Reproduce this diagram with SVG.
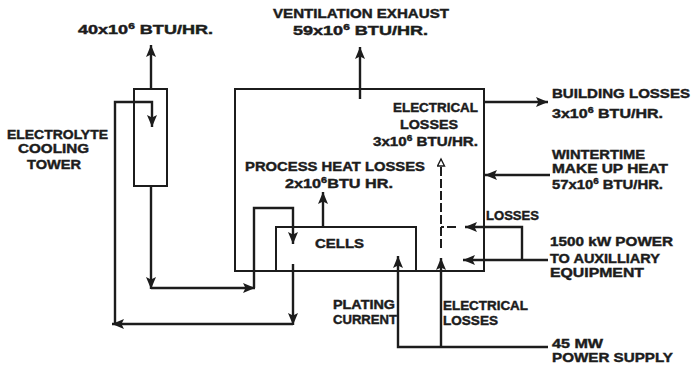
<svg xmlns="http://www.w3.org/2000/svg" width="692" height="368" viewBox="0 0 692 368">
<defs>
<style>
text{font-family:"Liberation Sans",Arial,sans-serif;font-weight:bold;font-size:13.5px;fill:#1c1c1c;stroke:#1c1c1c;stroke-width:0.45}
.sup{font-size:9px}
.box{fill:none;stroke:#1c1c1c;stroke-width:2}
.ln{fill:none;stroke:#1c1c1c;stroke-width:2.4}
.dash{fill:none;stroke:#1c1c1c;stroke-width:2;stroke-dasharray:9 3}
</style>
<marker id="ah" markerUnits="userSpaceOnUse" markerWidth="13" markerHeight="11" refX="12" refY="5.5" orient="auto">
<path d="M0,0.5 L12,5.5 L0,10.5 L2.5,5.5 z" fill="#1c1c1c"/>
</marker>
<marker id="ao" markerUnits="userSpaceOnUse" markerWidth="12" markerHeight="10" refX="8" refY="4.5" orient="auto">
<path d="M1,1 L8,4.5 L1,8 z" fill="#fff" stroke="#1c1c1c" stroke-width="1.4"/>
</marker>
</defs>
<rect width="692" height="368" fill="#fff"/>

<g id="building">
<rect class="box" x="235" y="89" width="249" height="182"/>
</g>

<g id="cooling-tower">
<rect class="box" x="134" y="89" width="33" height="97"/>
<text x="7" y="139" textLength="101" lengthAdjust="spacingAndGlyphs">ELECTROLYTE</text>
<text x="18" y="153" textLength="71" lengthAdjust="spacingAndGlyphs">COOLING</text>
<text x="27" y="169" textLength="54" lengthAdjust="spacingAndGlyphs">TOWER</text>
</g>

<g id="cells">
<rect class="box" x="276" y="227" width="140" height="44"/>
<text x="315" y="248" textLength="49" lengthAdjust="spacingAndGlyphs">CELLS</text>
</g>

<g id="connectors">
<line class="ln" x1="151" y1="89" x2="151" y2="45" marker-end="url(#ah)"/>
<line class="ln" x1="151" y1="186" x2="151" y2="289" marker-end="url(#ah)"/>
<line class="ln" x1="151" y1="288" x2="255" y2="288" marker-end="url(#ah)"/>
<polyline class="ln" points="254,288 254,208 293,208 293,244" marker-end="url(#ah)"/>
<line class="ln" x1="293" y1="264" x2="293" y2="325" marker-end="url(#ah)"/>
<line class="ln" x1="293" y1="324" x2="112" y2="324" marker-end="url(#ah)"/>
<polyline class="ln" points="115,324 115,102 152,102 152,127" marker-end="url(#ah)"/>
<line class="ln" x1="360" y1="99" x2="360" y2="47" marker-end="url(#ah)"/>
<line class="ln" x1="323" y1="227" x2="323" y2="192" marker-end="url(#ah)"/>
<line class="ln" x1="484" y1="102" x2="548" y2="102" marker-end="url(#ah)"/>
<line class="ln" x1="550" y1="175" x2="485" y2="175" marker-end="url(#ah)"/>
<line class="ln" x1="548" y1="260" x2="463" y2="260" marker-end="url(#ah)"/>
<polyline class="ln" points="522,260 522,227 465,227" marker-end="url(#ah)"/>
<line class="dash" x1="456" y1="227" x2="441" y2="227"/>
<polyline class="ln" points="548,347 398,347 398,256" marker-end="url(#ah)"/>
<line class="ln" x1="441" y1="347" x2="441" y2="258" marker-end="url(#ah)"/>
<line class="dash" x1="441" y1="248" x2="441" y2="159" marker-end="url(#ao)"/>
</g>

<g id="labels">
<text x="78" y="34" textLength="135" lengthAdjust="spacingAndGlyphs">40x10<tspan class="sup" dy="-5">6</tspan><tspan dy="5">  BTU/HR.</tspan></text>
<text x="273" y="18" textLength="176" lengthAdjust="spacingAndGlyphs">VENTILATION  EXHAUST</text>
<text x="293" y="35" textLength="135" lengthAdjust="spacingAndGlyphs">59x10<tspan class="sup" dy="-5">6</tspan><tspan dy="5">  BTU/HR.</tspan></text>
<text x="393" y="112" textLength="85" lengthAdjust="spacingAndGlyphs">ELECTRICAL</text>
<text x="400" y="129" textLength="58" lengthAdjust="spacingAndGlyphs">LOSSES</text>
<text x="373" y="146" textLength="105" lengthAdjust="spacingAndGlyphs">3x10<tspan class="sup" dy="-5">6</tspan><tspan dy="5">  BTU/HR.</tspan></text>
<text x="245" y="171" textLength="180" lengthAdjust="spacingAndGlyphs">PROCESS  HEAT  LOSSES</text>
<text x="285" y="188" textLength="108" lengthAdjust="spacingAndGlyphs">2x10<tspan class="sup" dy="-5">6</tspan><tspan dy="5">BTU  HR.</tspan></text>
<text x="552" y="98" textLength="138" lengthAdjust="spacingAndGlyphs">BUILDING  LOSSES</text>
<text x="552" y="118" textLength="111" lengthAdjust="spacingAndGlyphs">3x10<tspan class="sup" dy="-5">6</tspan><tspan dy="5">  BTU/HR.</tspan></text>
<text x="552" y="159" textLength="93" lengthAdjust="spacingAndGlyphs">WINTERTIME</text>
<text x="552" y="173" textLength="116" lengthAdjust="spacingAndGlyphs">MAKE UP  HEAT</text>
<text x="552" y="189" textLength="111" lengthAdjust="spacingAndGlyphs">57x10<tspan class="sup" dy="-5">6</tspan><tspan dy="5"> BTU/HR.</tspan></text>
<text x="486" y="220" textLength="53" lengthAdjust="spacingAndGlyphs">LOSSES</text>
<text x="550" y="246" textLength="123" lengthAdjust="spacingAndGlyphs">1500 kW  POWER</text>
<text x="550" y="263" textLength="110" lengthAdjust="spacingAndGlyphs">TO AUXILLIARY</text>
<text x="550" y="277" textLength="94" lengthAdjust="spacingAndGlyphs">EQUIPMENT</text>
<text x="333" y="309" textLength="62" lengthAdjust="spacingAndGlyphs">PLATING</text>
<text x="333" y="324" textLength="64" lengthAdjust="spacingAndGlyphs">CURRENT</text>
<text x="443" y="310" textLength="85" lengthAdjust="spacingAndGlyphs">ELECTRICAL</text>
<text x="443" y="325" textLength="55" lengthAdjust="spacingAndGlyphs">LOSSES</text>
<text x="552" y="348" textLength="51" lengthAdjust="spacingAndGlyphs">45 MW</text>
<text x="552" y="362" textLength="121" lengthAdjust="spacingAndGlyphs">POWER  SUPPLY</text>
</g>
</svg>
